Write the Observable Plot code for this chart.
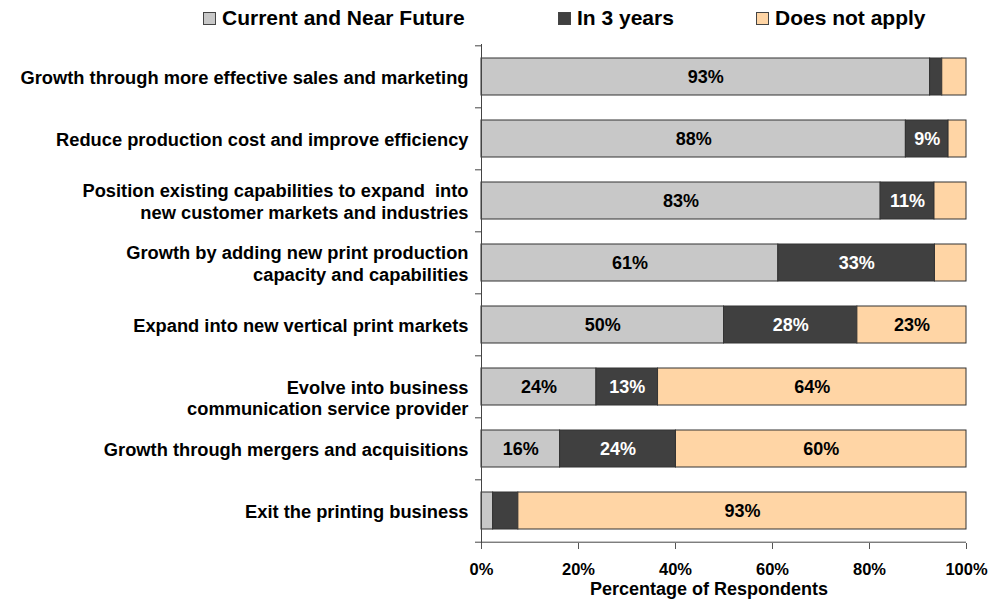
<!DOCTYPE html>
<html><head><meta charset="utf-8">
<script src="https://cdn.jsdelivr.net/npm/d3@7"></script>
<script src="https://cdn.jsdelivr.net/npm/@observablehq/plot@0.6"></script>
<style>
body{margin:0;background:#fff;font-family:"Liberation Sans",Arial,sans-serif;}
#legend{position:relative;height:40px;width:990px;font-weight:bold;font-size:21px;color:#000;}
.item{position:absolute;top:5px;height:26px;display:flex;align-items:center;white-space:nowrap;}
.sw{width:11px;height:11px;border:1px solid #444;margin-right:6px;}
</style></head><body>
<div id="legend"></div>
<div id="chart"></div>
<script>
const categories = [
  "Growth through more effective sales and marketing",
  "Reduce production cost and improve efficiency",
  "Position existing capabilities to expand  into\nnew customer markets and industries",
  "Growth by adding new print production\ncapacity and capabilities",
  "Expand into new vertical print markets",
  "\nEvolve into business\ncommunication service provider",
  "Growth through mergers and acquisitions",
  "Exit the printing business"
];
const seriesNames = ["Current and Near Future", "In 3 years", "Does not apply"];
const currentValues = [92.5, 87.5, 82.3, 61.2, 50.0, 23.7, 16.2, 2.4];
const in3Values     = [2.5, 8.8, 11.1, 32.3, 27.5, 12.7, 23.9, 5.2];
const naValues      = [5.0, 3.7, 6.6, 6.5, 22.5, 63.6, 59.9, 92.4];
const currentLabels = ["93%", "88%", "83%", "61%", "50%", "24%", "16%", ""];
const in3Labels     = ["", "9%", "11%", "33%", "28%", "13%", "24%", ""];
const naLabels      = ["", "", "", "", "23%", "64%", "60%", "93%"];
const xTicks = [0, 20, 40, 60, 80, 100];
const xLabel = "Percentage of Respondents";

const seriesColors = ["#c8c8c8", "#404040", "#ffd5a5"];
const labelColors = ["#000000", "#ffffff", "#000000"];

const valuesBySeries = [currentValues, in3Values, naValues];
const labelsBySeries = [currentLabels, in3Labels, naLabels];
const rows = [];
categories.forEach((c, i) => {
  seriesNames.forEach((s, j) => {
    rows.push({cat: c, series: s, si: j, value: valuesBySeries[j][i], label: labelsBySeries[j][i]});
  });
});

// legend
const legend = document.getElementById("legend");
const legendLeft = [203, 558, 756];
seriesNames.forEach((s, j) => {
  const it = document.createElement("div");
  it.className = "item";
  it.style.left = legendLeft[j] + "px";
  const sw = document.createElement("span");
  sw.className = "sw";
  sw.style.background = seriesColors[j];
  it.appendChild(sw);
  const t = document.createElement("span");
  t.textContent = s;
  it.appendChild(t);
  legend.appendChild(it);
});

const width = 990, height = 559;
const marginLeft = 481, marginRight = 24, marginTop = 4, marginBottom = 56;
const frameW = width - marginLeft - marginRight;
const step = (height - marginTop - marginBottom) / categories.length;
const font = "Liberation Sans, Arial, Helvetica, sans-serif";

const chart = Plot.plot({
  width, height, marginLeft, marginRight, marginTop, marginBottom,
  style: {fontFamily: font, fontWeight: "bold", background: "#fff", color: "#000"},
  x: {domain: [0, 100]},
  y: {domain: categories, paddingInner: 0.406, paddingOuter: 0.203},
  color: {domain: seriesNames, range: seriesColors},
  marks: [
    Plot.barX(rows, Plot.stackX({y: "cat", x: "value", fill: "series", stroke: "#333", strokeWidth: 1})),
    Plot.text(rows, Plot.stackX({
      y: "cat", x: "value", z: "series", text: "label",
      fill: {value: d => labelColors[d.si], scale: null},
      fontSize: 18, fontWeight: "bold"
    })),
    Plot.ruleX([0], {stroke: "#444"}),
    Plot.ruleY(categories, {y: d => d, dy: -step / 2, insetLeft: -6, insetRight: frameW, stroke: "#444"}),
    Plot.ruleY([categories[categories.length - 1]], {y: d => d, dy: step / 2, insetLeft: -6, stroke: "#444"}),
    Plot.axisY({tickSize: 0, tickPadding: 13, fontSize: 18.3, fontWeight: "bold", lineHeight: 1.17, label: null, fill: "#000"}),
    Plot.axisX({ticks: xTicks, tickFormat: d => d + "%", tickSize: 6, tickPadding: 14, stroke: "#555", fill: "#000", fontSize: 16.5, fontWeight: "bold", label: null}),
    Plot.text([xLabel], {frameAnchor: "bottom", dy: 46, dx: -15, lineAnchor: "middle", fontSize: 18, fontWeight: "bold", fill: "#000"})
  ]
});
document.getElementById("chart").appendChild(chart);
</script>
</body></html>
